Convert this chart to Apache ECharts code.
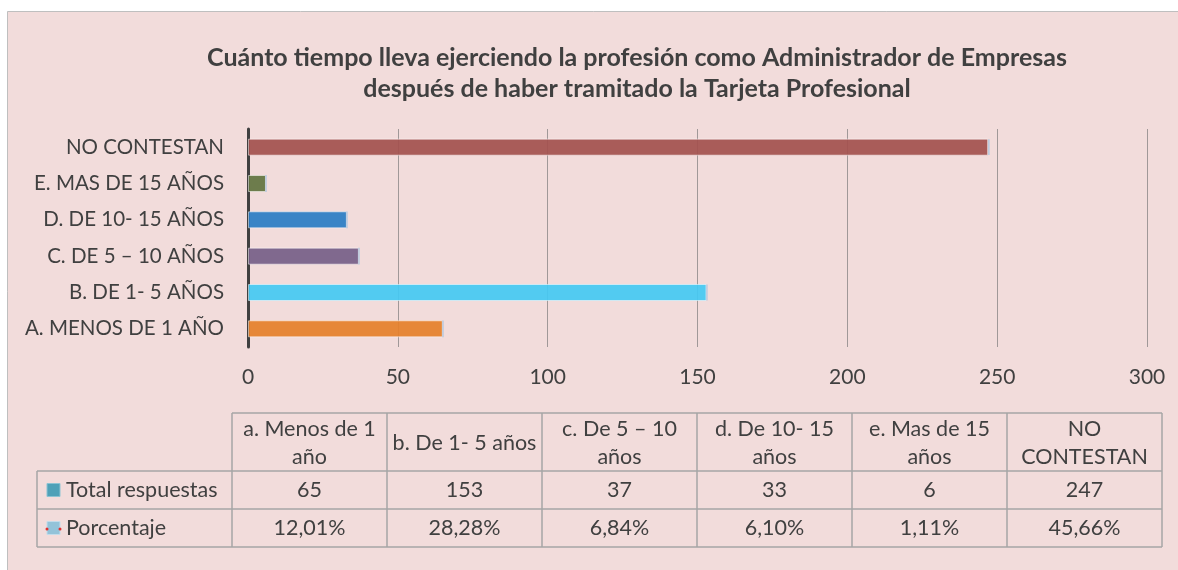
<!DOCTYPE html>
<html>
<head>
<meta charset="utf-8">
<script src="https://cdn.jsdelivr.net/npm/echarts@6/dist/echarts.min.js"></script>
<style>
  html, body { margin: 0; padding: 0; background: #ffffff; }
  #chart { width: 1178px; height: 570px; }
</style>
</head>
<body>
<div id="chart"></div>
<script>
// ---- data ----
const categories = ['a. Menos de 1 año', 'b. De 1- 5 años', 'c. De 5 – 10 años', 'd. De 10- 15 años', 'e. Mas de 15 años', 'NO CONTESTAN'];
const tableHeaders = ['a. Menos de 1\naño', 'b. De 1- 5 años', 'c. De 5 – 10\naños', 'd. De 10- 15\naños', 'e. Mas de 15\naños', 'NO\nCONTESTAN'];
const totalRespuestas = [65, 153, 37, 33, 6, 247];
const porcentaje = [12.01, 28.28, 6.84, 6.10, 1.11, 45.66];
const barColors = ['#e57f2a', '#44c9f3', '#765e88', '#2a7cc4', '#627340', '#a3504e'];
const xTicks = [0, 50, 100, 150, 200, 250, 300];
const seriesNames = ['Total respuestas', 'Porcentaje'];
const titleLines = ['Cuánto tiempo lleva ejerciendo la profesión como Administrador de Empresas', 'después de haber tramitado la Tarjeta Profesional'];

// ---- layout ----
const FONT = 'Lato, "Open Sans", sans-serif';
const TXT = '#404040';
const gridLeft = 248, gridRight = 1147, gridTop = 129, gridH = 218;
const tX0 = 232, tColW = (1162 - 232) / 6, tLabelX = 37;
const rY = [413, 471, 509, 547];
const tFont = '21.5px ' + FONT;

const chart = echarts.init(document.getElementById('chart'));
const graphics = [];

// background panel
graphics.push({ type: 'rect', z: -10, shape: { x: 7.5, y: 11.5, width: 1200, height: 600 },
  style: { fill: '#f2dcdb', stroke: '#bfbfbf', lineWidth: 1 } });

// title
graphics.push({ type: 'text', x: 637, y: 73, style: { text: titleLines.join('\n'), font: 'bold 25px ' + FONT,
  fill: TXT, textAlign: 'center', textVerticalAlign: 'middle', lineHeight: 31 } });

// table lines
const lineStyle = { stroke: '#a6a6a6', lineWidth: 1.5 };
function hline(x1, x2, y) { graphics.push({ type: 'line', shape: { x1, y1: y, x2, y2: y }, style: lineStyle }); }
function vline(x, y1, y2) { graphics.push({ type: 'line', shape: { x1: x, y1, x2: x, y2 }, style: lineStyle }); }
const tX1 = tX0 + tColW * 6;
hline(tX0, tX1, rY[0]);
hline(tLabelX, tX1, rY[1]);
hline(tLabelX, tX1, rY[2]);
hline(tLabelX, tX1, rY[3]);
vline(tLabelX, rY[1], rY[3]);
for (let i = 0; i <= 6; i++) vline(tX0 + tColW * i, rY[0], rY[3]);

// table cells
for (let i = 0; i < categories.length; i++) {
  const cx = tX0 + tColW * (i + 0.5);
  graphics.push({ type: 'text', x: cx, y: (rY[0] + rY[1]) / 2 + 1, style: { text: tableHeaders[i], font: tFont,
    fill: TXT, textAlign: 'center', textVerticalAlign: 'middle', lineHeight: 28 } });
  graphics.push({ type: 'text', x: cx, y: (rY[1] + rY[2]) / 2, style: { text: String(totalRespuestas[i]), font: tFont,
    fill: TXT, textAlign: 'center', textVerticalAlign: 'middle' } });
  graphics.push({ type: 'text', x: cx, y: (rY[2] + rY[3]) / 2, style: { text: porcentaje[i].toFixed(2).replace('.', ',') + '%', font: tFont,
    fill: TXT, textAlign: 'center', textVerticalAlign: 'middle' } });
}
// row labels with keys
graphics.push({ type: 'rect', shape: { x: 47, y: (rY[1] + rY[2]) / 2 - 6.5, width: 13, height: 13 },
  style: { fill: '#4fa1b8', stroke: '#8cc3d3', lineWidth: 1 } });
graphics.push({ type: 'text', x: 66, y: (rY[1] + rY[2]) / 2, style: { text: seriesNames[0], font: tFont,
  fill: TXT, textAlign: 'left', textVerticalAlign: 'middle' } });
graphics.push({ type: 'rect', shape: { x: 47, y: (rY[2] + rY[3]) / 2 - 6.5, width: 13, height: 13 },
  style: { fill: '#93c3d9', stroke: '#c3dcea', lineWidth: 1 } });
graphics.push({ type: 'circle', shape: { cx: 47, cy: (rY[2] + rY[3]) / 2 + 1, r: 1.5 }, style: { fill: '#e03030' } });
graphics.push({ type: 'circle', shape: { cx: 60, cy: (rY[2] + rY[3]) / 2 + 1, r: 1.5 }, style: { fill: '#e03030' } });
graphics.push({ type: 'text', x: 66, y: (rY[2] + rY[3]) / 2, style: { text: seriesNames[1], font: tFont,
  fill: TXT, textAlign: 'left', textVerticalAlign: 'middle' } });

const option = {
  backgroundColor: 'transparent',
  animation: false,
  graphic: graphics,
  grid: { left: gridLeft, width: gridRight - gridLeft, top: gridTop, height: gridH, containLabel: false },
  xAxis: {
    type: 'value', min: xTicks[0], max: xTicks[xTicks.length - 1], interval: xTicks[1] - xTicks[0],
    axisLine: { show: false }, axisTick: { show: false },
    splitLine: { show: true, lineStyle: { color: '#a09898', width: 1 } },
    axisLabel: { color: TXT, fontSize: 21, fontFamily: FONT, margin: 20 }
  },
  yAxis: {
    type: 'category', data: categories,
    axisLine: { show: true, onZero: false, lineStyle: { color: TXT, width: 3 } },
    axisTick: { show: false },
    axisLabel: { color: TXT, fontSize: 20.5, fontFamily: FONT, margin: 24, formatter: v => v.toUpperCase() }
  },
  series: [
    {
      name: seriesNames[0], type: 'bar', stack: 'a', barWidth: 17,
      data: totalRespuestas.map((v, i) => ({ value: v, itemStyle: { color: barColors[i] } })),
      itemStyle: { opacity: 0.92, borderColor: 'rgba(255,255,255,0.55)', borderWidth: 1 }
    },
    {
      name: seriesNames[1], type: 'bar', stack: 'a', barWidth: 17,
      data: porcentaje.map(v => v / 100),
      itemStyle: { color: '#b8c9de', borderColor: '#b8c9de', borderWidth: 1.5 }
    }
  ]
};
chart.setOption(option);
</script>
</body>
</html>
